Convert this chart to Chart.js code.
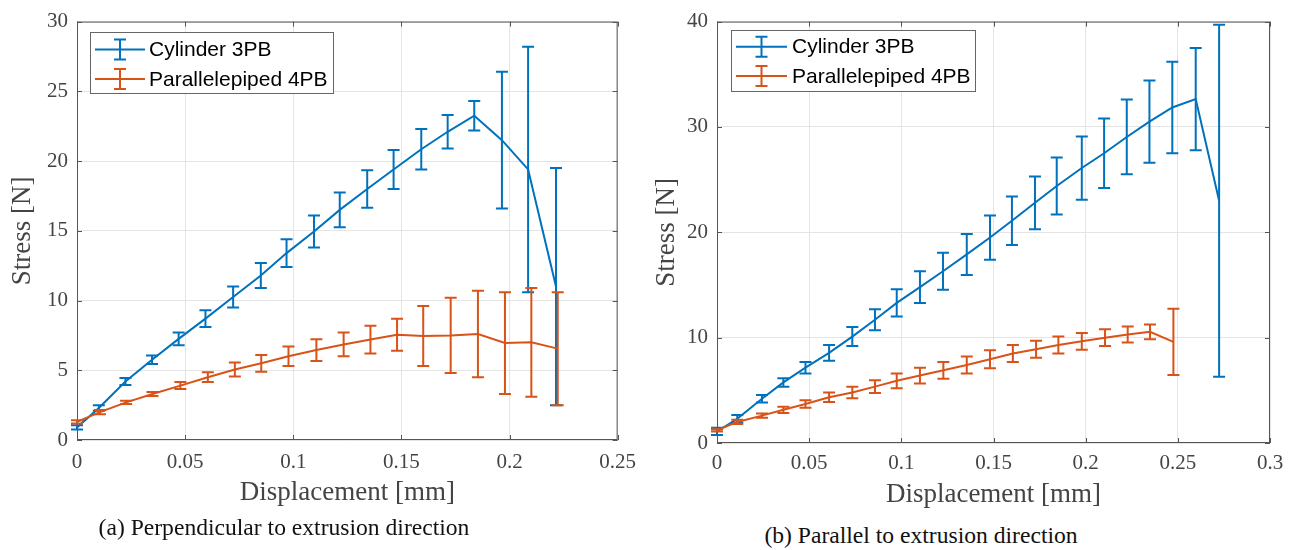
<!DOCTYPE html>
<html>
<head>
<meta charset="utf-8">
<script src="https://cdn.jsdelivr.net/npm/chart.js@4.4.1/dist/chart.umd.min.js"></script>
<style>
  body { margin: 0; background: #fff; width: 1292px; height: 550px; position: relative; overflow: hidden; }
  .panel { position: absolute; top: 0; width: 646px; height: 520px; }
  .caption {
    position: absolute;
    font-family: "Liberation Serif", serif;
    font-size: 23.6px;
    color: #111;
    white-space: nowrap;
    transform: translate(-50%, -50%);
  }
</style>
</head>
<body>
<div class="panel" style="left:0"><canvas id="chartA" width="646" height="520"></canvas></div>
<div class="panel" style="left:646px"><canvas id="chartB" width="646" height="520"></canvas></div>
<div class="caption" style="left:284px; top:527px">(a) Perpendicular to extrusion direction</div>
<div class="caption" style="left:921px; top:535px">(b) Parallel to extrusion direction</div>

<script>
// ---- (a) perpendicular to extrusion direction ----
const cylXA = [0, 0.0101, 0.0224, 0.0347, 0.047, 0.0594, 0.0722, 0.085, 0.0969, 0.1096, 0.1215, 0.1342, 0.1464, 0.1592, 0.1714, 0.1837, 0.1965, 0.2086, 0.2215];
const cylYA = [0.9, 2.3, 4.2, 5.75, 7.25, 8.7, 10.25, 11.8, 13.4, 14.95, 16.5, 18.0, 19.4, 20.85, 22.1, 23.25, 21.5, 19.4, 11.0];
const cylErrA = [0.15, 0.2, 0.25, 0.3, 0.45, 0.6, 0.75, 0.9, 1.0, 1.15, 1.25, 1.35, 1.4, 1.45, 1.2, 1.05, 4.9, 8.8, 8.5];

const parXA = [0, 0.0106, 0.0227, 0.0349, 0.0478, 0.0605, 0.073, 0.0852, 0.0978, 0.1107, 0.1233, 0.1357, 0.148, 0.1601, 0.1728, 0.1854, 0.1979, 0.2101, 0.2223];
const parYA = [1.3, 2.0, 2.7, 3.3, 3.9, 4.5, 5.05, 5.5, 6.0, 6.45, 6.85, 7.2, 7.55, 7.45, 7.5, 7.6, 6.95, 7.0, 6.55];
const parErrA = [0.12, 0.15, 0.12, 0.15, 0.25, 0.35, 0.5, 0.6, 0.7, 0.78, 0.85, 1.0, 1.15, 2.15, 2.7, 3.1, 3.65, 3.9, 4.05];

const xTicksA = [0, 0.05, 0.1, 0.15, 0.2, 0.25];
const yTicksA = [0, 5, 10, 15, 20, 25, 30];

// ---- (b) parallel to extrusion direction ----
const cylXB = [0, 0.011, 0.0244, 0.036, 0.048, 0.0608, 0.0734, 0.0857, 0.0975, 0.1101, 0.1226, 0.1355, 0.1481, 0.16, 0.1725, 0.1843, 0.1979, 0.21, 0.2223, 0.2346, 0.247, 0.2597, 0.2724];
const cylYB = [1.1, 2.3, 4.2, 5.75, 7.15, 8.55, 10.1, 11.7, 13.3, 14.8, 16.3, 17.9, 19.5, 21.1, 22.8, 24.4, 26.1, 27.5, 29.05, 30.5, 31.85, 32.65, 23.0];
const cylErrB = [0.35, 0.35, 0.35, 0.4, 0.55, 0.75, 0.9, 1.0, 1.3, 1.5, 1.75, 1.95, 2.1, 2.3, 2.5, 2.7, 3.0, 3.3, 3.55, 3.9, 4.35, 4.85, 16.7];

const parXB = [0, 0.011, 0.0244, 0.036, 0.048, 0.0608, 0.0734, 0.0857, 0.0975, 0.1101, 0.1228, 0.1355, 0.1481, 0.1605, 0.1731, 0.1852, 0.1979, 0.2105, 0.2228, 0.2349, 0.2476];
const parYB = [1.2, 2.0, 2.6, 3.15, 3.7, 4.35, 4.8, 5.35, 5.9, 6.4, 6.9, 7.4, 7.95, 8.5, 8.9, 9.3, 9.65, 10.0, 10.3, 10.55, 9.6];
const parErrB = [0.1, 0.2, 0.2, 0.3, 0.35, 0.45, 0.55, 0.6, 0.7, 0.75, 0.8, 0.8, 0.85, 0.8, 0.8, 0.8, 0.8, 0.8, 0.75, 0.7, 3.15];

const xTicksB = [0, 0.05, 0.1, 0.15, 0.2, 0.25, 0.3];
const yTicksB = [0, 10, 20, 30, 40];

const seriesLabels = ["Cylinder 3PB", "Parallelepiped 4PB"];

// MATLAB default colours
const BLUE = "#0072BD";
const ORANGE = "#D95319";
const AXIS = "#555";
const GRID = "#e4e4e4";
const TEXT = "#444";

function toPoints(xs, ys) {
  return xs.map((x, i) => ({ x: x, y: ys[i] }));
}

// vertical error bars with caps, drawn right after each dataset
const errorBars = {
  id: "errorBars",
  afterDatasetDraw(chart, args) {
    const ds = chart.data.datasets[args.index];
    if (!ds.errors) return;
    const ctx = chart.ctx;
    const yScale = chart.scales.y;
    ctx.save();
    ctx.strokeStyle = ds.borderColor;
    ctx.lineWidth = 2;
    args.meta.data.forEach((pt, i) => {
      const v = ds.data[i].y;
      const e = ds.errors[i];
      const top = yScale.getPixelForValue(v + e);
      const bot = yScale.getPixelForValue(v - e);
      ctx.beginPath();
      ctx.moveTo(pt.x, top);
      ctx.lineTo(pt.x, bot);
      ctx.moveTo(pt.x - 6, top);
      ctx.lineTo(pt.x + 6, top);
      ctx.moveTo(pt.x - 6, bot);
      ctx.lineTo(pt.x + 6, bot);
      ctx.stroke();
    });
    ctx.restore();
  },
};

// axes box with inward tick marks on all four sides
const axesBox = {
  id: "axesBox",
  beforeDatasetsDraw(chart) {
    const { ctx, chartArea: a } = chart;
    const xs = chart.scales.x;
    const ys = chart.scales.y;
    ctx.save();
    ctx.strokeStyle = AXIS;
    ctx.lineWidth = 1;
    ctx.strokeRect(a.left + 0.5, a.top + 0.5, a.right - a.left - 1, a.bottom - a.top - 1);
    ctx.beginPath();
    xs.ticks.forEach((t) => {
      const px = Math.round(xs.getPixelForValue(t.value)) + 0.5;
      ctx.moveTo(px, a.bottom);
      ctx.lineTo(px, a.bottom - 5);
      ctx.moveTo(px, a.top);
      ctx.lineTo(px, a.top + 5);
    });
    ys.ticks.forEach((t) => {
      const py = Math.round(ys.getPixelForValue(t.value)) + 0.5;
      ctx.moveTo(a.left, py);
      ctx.lineTo(a.left + 5, py);
      ctx.moveTo(a.right, py);
      ctx.lineTo(a.right - 5, py);
    });
    ctx.stroke();
    ctx.restore();
  },
};

// legend box in the upper-left corner, with errorbar symbols
const boxLegend = {
  id: "boxLegend",
  afterDraw(chart, args, opts) {
    const ctx = chart.ctx;
    ctx.save();
    ctx.fillStyle = "#fff";
    ctx.fillRect(opts.left, opts.top, opts.right - opts.left, opts.bottom - opts.top);
    ctx.strokeStyle = "#666";
    ctx.lineWidth = 1;
    ctx.strokeRect(opts.left + 0.5, opts.top + 0.5, opts.right - opts.left, opts.bottom - opts.top);
    ctx.font = '21px "Liberation Sans", Arial, sans-serif';
    ctx.textBaseline = "middle";
    chart.data.datasets.forEach((ds, i) => {
      const y = opts.rows[i];
      const mid = (opts.lineFrom + opts.lineTo) / 2;
      ctx.strokeStyle = ds.borderColor;
      ctx.lineWidth = 2;
      ctx.beginPath();
      ctx.moveTo(opts.lineFrom, y);
      ctx.lineTo(opts.lineTo, y);
      ctx.moveTo(mid, y - 10);
      ctx.lineTo(mid, y + 10);
      ctx.moveTo(mid - 6, y - 10);
      ctx.lineTo(mid + 6, y - 10);
      ctx.moveTo(mid - 6, y + 10);
      ctx.lineTo(mid + 6, y + 10);
      ctx.stroke();
      ctx.fillStyle = "#000";
      ctx.fillText(ds.label, opts.textX, y + 1);
    });
    ctx.restore();
  },
};

function makeChart(id, cfg) {
  const tickFont = { family: '"Liberation Serif", "Times New Roman", serif', size: 21 };
  const titleFont = { family: '"Liberation Serif", "Times New Roman", serif', size: 27 };

  new Chart(document.getElementById(id).getContext("2d"), {
    type: "line",
    data: {
      datasets: [
        {
          label: seriesLabels[0],
          data: toPoints(cfg.cylX, cfg.cylY),
          errors: cfg.cylErr,
          borderColor: BLUE,
          borderWidth: 2,
          pointRadius: 0,
          fill: false,
          tension: 0,
          order: 2,
        },
        {
          label: seriesLabels[1],
          data: toPoints(cfg.parX, cfg.parY),
          errors: cfg.parErr,
          borderColor: ORANGE,
          borderWidth: 2,
          pointRadius: 0,
          fill: false,
          tension: 0,
          order: 1,
        },
      ],
    },
    options: {
      responsive: false,
      animation: false,
      layout: { padding: cfg.padding },
      scales: {
        x: {
          type: "linear",
          min: cfg.xTicks[0],
          max: cfg.xTicks[cfg.xTicks.length - 1],
          afterBuildTicks: (axis) => { axis.ticks = cfg.xTicks.map((v) => ({ value: v })); },
          afterFit: (s) => { s.height = cfg.xHeight; },
          ticks: {
            font: tickFont,
            color: TEXT,
            padding: cfg.xTickPad,
            maxRotation: 0,
            autoSkip: false,
            callback: (v) => String(+v.toFixed(2)),
          },
          grid: { color: GRID, drawTicks: false },
          border: { display: false },
          title: {
            display: true,
            text: "Displacement [mm]",
            font: titleFont,
            color: TEXT,
            padding: { top: 0, bottom: cfg.xTitlePad },
          },
        },
        y: {
          type: "linear",
          min: cfg.yTicks[0],
          max: cfg.yTicks[cfg.yTicks.length - 1],
          afterBuildTicks: (axis) => { axis.ticks = cfg.yTicks.map((v) => ({ value: v })); },
          afterFit: (s) => { s.width = cfg.yWidth; },
          ticks: { font: tickFont, color: TEXT, padding: 9 },
          grid: { color: GRID, drawTicks: false },
          border: { display: false },
          title: {
            display: true,
            text: "Stress [N]",
            font: titleFont,
            color: TEXT,
            padding: { top: cfg.yTitlePad, bottom: 0 },
          },
        },
      },
      plugins: {
        legend: { display: false },
        tooltip: { enabled: false },
        boxLegend: cfg.legend,
      },
    },
    plugins: [axesBox, errorBars, boxLegend],
  });
}

makeChart("chartA", {
  cylX: cylXA, cylY: cylYA, cylErr: cylErrA,
  parX: parXA, parY: parYA, parErr: parErrA,
  xTicks: xTicksA, yTicks: yTicksA,
  padding: { left: 0, top: 19, right: 23, bottom: 0 },
  yWidth: 77, xHeight: 80,
  xTickPad: 10, xTitlePad: 11, yTitlePad: 7,
  legend: { left: 90, top: 32, right: 333, bottom: 93, rows: [49.5, 79], lineFrom: 95, lineTo: 145, textX: 149 },
});

makeChart("chartB", {
  cylX: cylXB, cylY: cylYB, cylErr: cylErrB,
  parX: parXB, parY: parYB, parErr: parErrB,
  xTicks: xTicksB, yTicks: yTicksB,
  padding: { left: 0, top: 17, right: 22, bottom: 0 },
  yWidth: 71, xHeight: 77,
  xTickPad: 8, xTitlePad: 9, yTitlePad: 5,
  legend: { left: 85, top: 30, right: 329, bottom: 91, rows: [46.7, 76], lineFrom: 90, lineTo: 141, textX: 146 },
});
</script>
</body>
</html>
